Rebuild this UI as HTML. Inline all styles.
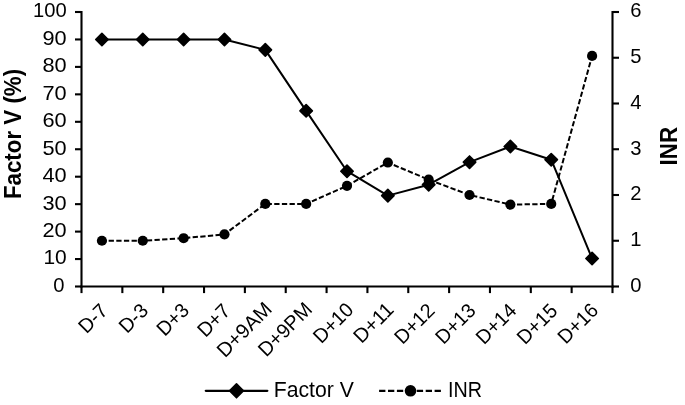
<!DOCTYPE html>
<html lang="en"><head><meta charset="utf-8"><title>Factor V and INR</title>
<style>html,body{margin:0;padding:0;background:#fff}body{width:685px;height:405px;overflow:hidden}</style></head>
<body>
<svg width="685" height="405" viewBox="0 0 685 405" style="display:block">
<rect width="685" height="405" fill="#fff"/>
<g stroke="#000" stroke-width="2.1" fill="none" shape-rendering="auto">
<path d="M81.5 10.95V287.55"/>
<path d="M612.5 10.95V287.55"/>
<path d="M80.45 286.5H613.55"/>
<path d="M75.0 286.50H81.5"/>
<path d="M75.0 259.05H81.5"/>
<path d="M75.0 231.60H81.5"/>
<path d="M75.0 204.15H81.5"/>
<path d="M75.0 176.70H81.5"/>
<path d="M75.0 149.25H81.5"/>
<path d="M75.0 121.80H81.5"/>
<path d="M75.0 94.35H81.5"/>
<path d="M75.0 66.90H81.5"/>
<path d="M75.0 39.45H81.5"/>
<path d="M75.0 12.00H81.5"/>
<path d="M612.5 286.50H619.0"/>
<path d="M612.5 240.75H619.0"/>
<path d="M612.5 195.00H619.0"/>
<path d="M612.5 149.25H619.0"/>
<path d="M612.5 103.50H619.0"/>
<path d="M612.5 57.75H619.0"/>
<path d="M612.5 12.00H619.0"/>
<path d="M81.50 286.5V293.1"/>
<path d="M122.35 286.5V293.1"/>
<path d="M163.19 286.5V293.1"/>
<path d="M204.04 286.5V293.1"/>
<path d="M244.88 286.5V293.1"/>
<path d="M285.73 286.5V293.1"/>
<path d="M326.58 286.5V293.1"/>
<path d="M367.42 286.5V293.1"/>
<path d="M408.27 286.5V293.1"/>
<path d="M449.12 286.5V293.1"/>
<path d="M489.96 286.5V293.1"/>
<path d="M530.81 286.5V293.1"/>
<path d="M571.65 286.5V293.1"/>
<path d="M612.50 286.5V293.1"/>
</g>
<g font-family="&quot;Liberation Sans&quot;, sans-serif" font-size="20.2" fill="#000">
<text x="64.4" y="291.90" text-anchor="end">0</text>
<text x="66.7" y="264.45" text-anchor="end" textLength="23.3" lengthAdjust="spacingAndGlyphs">10</text>
<text x="66.7" y="237.00" text-anchor="end" textLength="24.2" lengthAdjust="spacingAndGlyphs">20</text>
<text x="66.7" y="209.55" text-anchor="end" textLength="24.2" lengthAdjust="spacingAndGlyphs">30</text>
<text x="66.7" y="182.10" text-anchor="end" textLength="24.2" lengthAdjust="spacingAndGlyphs">40</text>
<text x="66.7" y="154.65" text-anchor="end" textLength="24.2" lengthAdjust="spacingAndGlyphs">50</text>
<text x="66.7" y="127.20" text-anchor="end" textLength="24.2" lengthAdjust="spacingAndGlyphs">60</text>
<text x="66.7" y="99.75" text-anchor="end" textLength="24.2" lengthAdjust="spacingAndGlyphs">70</text>
<text x="66.7" y="72.30" text-anchor="end" textLength="24.2" lengthAdjust="spacingAndGlyphs">80</text>
<text x="66.7" y="44.85" text-anchor="end" textLength="24.2" lengthAdjust="spacingAndGlyphs">90</text>
<text x="66.7" y="17.40" text-anchor="end">100</text>
<text x="630.3" y="291.90">0</text>
<text x="630.3" y="246.15">1</text>
<text x="630.3" y="200.40">2</text>
<text x="630.3" y="154.65">3</text>
<text x="630.3" y="108.90">4</text>
<text x="630.3" y="63.15">5</text>
<text x="630.3" y="17.40">6</text>
<text transform="translate(108.92 312.00) rotate(-45)" text-anchor="end" textLength="31.7" lengthAdjust="spacingAndGlyphs">D-7</text>
<text transform="translate(149.42 311.85) rotate(-45)" text-anchor="end" textLength="31.7" lengthAdjust="spacingAndGlyphs">D-3</text>
<text transform="translate(190.22 311.60) rotate(-45)" text-anchor="end" textLength="35.9" lengthAdjust="spacingAndGlyphs">D+3</text>
<text transform="translate(231.56 312.20) rotate(-45)" text-anchor="end" textLength="36.9" lengthAdjust="spacingAndGlyphs">D+7</text>
<text transform="translate(273.11 310.40) rotate(-45)" text-anchor="end" textLength="68.0" lengthAdjust="spacingAndGlyphs">D+9AM</text>
<text transform="translate(313.30 310.65) rotate(-45)" text-anchor="end" textLength="66.5" lengthAdjust="spacingAndGlyphs">D+9PM</text>
<text transform="translate(354.85 310.90) rotate(-45)" text-anchor="end" textLength="47.6" lengthAdjust="spacingAndGlyphs">D+10</text>
<text transform="translate(394.95 310.90) rotate(-45)" text-anchor="end">D+11</text>
<text transform="translate(435.99 311.70) rotate(-45)" text-anchor="end" textLength="47.5" lengthAdjust="spacingAndGlyphs">D+12</text>
<text transform="translate(476.94 311.70) rotate(-45)" text-anchor="end" textLength="47.3" lengthAdjust="spacingAndGlyphs">D+13</text>
<text transform="translate(517.68 311.80) rotate(-45)" text-anchor="end" textLength="47.5" lengthAdjust="spacingAndGlyphs">D+14</text>
<text transform="translate(558.63 312.00) rotate(-45)" text-anchor="end" textLength="47.5" lengthAdjust="spacingAndGlyphs">D+15</text>
<text transform="translate(599.38 311.50) rotate(-45)" text-anchor="end" textLength="47.5" lengthAdjust="spacingAndGlyphs">D+16</text>
</g>
<g font-family="&quot;Liberation Sans&quot;, sans-serif" font-weight="bold" font-size="24.4" fill="#000">
<text transform="translate(21.1 134.0) rotate(-90)" text-anchor="middle" textLength="130.2" lengthAdjust="spacingAndGlyphs">Factor V (%)</text>
<text transform="translate(677.3 146.2) rotate(-90)" text-anchor="middle" textLength="38.4" lengthAdjust="spacingAndGlyphs">INR</text>
</g>
<polyline points="101.92,39.45 142.77,39.45 183.62,39.45 224.46,39.45 265.31,49.88 306.15,110.82 347.00,171.21 387.85,195.64 428.69,184.66 469.54,162.15 510.38,146.50 551.23,159.68 592.08,258.50" fill="none" stroke="#000" stroke-width="2.0" stroke-linejoin="round"/>
<polyline points="101.92,240.75 142.77,240.75 183.62,238.23 224.46,234.34 265.31,203.92 306.15,203.92 347.00,185.85 387.85,162.52 428.69,179.67 469.54,195.00 510.38,204.61 551.23,203.92 592.08,55.92" fill="none" stroke="#000" stroke-width="2.0" stroke-dasharray="5.3 2.35" stroke-dashoffset="0.95" stroke-linejoin="round"/>
<path d="M95.72 39.45L101.92 33.25L108.12 39.45L101.92 45.65Z" fill="#000" stroke="#000" stroke-width="1.6" stroke-linejoin="round"/>
<path d="M136.57 39.45L142.77 33.25L148.97 39.45L142.77 45.65Z" fill="#000" stroke="#000" stroke-width="1.6" stroke-linejoin="round"/>
<path d="M177.42 39.45L183.62 33.25L189.82 39.45L183.62 45.65Z" fill="#000" stroke="#000" stroke-width="1.6" stroke-linejoin="round"/>
<path d="M218.26 39.45L224.46 33.25L230.66 39.45L224.46 45.65Z" fill="#000" stroke="#000" stroke-width="1.6" stroke-linejoin="round"/>
<path d="M259.11 49.88L265.31 43.68L271.51 49.88L265.31 56.08Z" fill="#000" stroke="#000" stroke-width="1.6" stroke-linejoin="round"/>
<path d="M299.95 110.82L306.15 104.62L312.35 110.82L306.15 117.02Z" fill="#000" stroke="#000" stroke-width="1.6" stroke-linejoin="round"/>
<path d="M340.80 171.21L347.00 165.01L353.20 171.21L347.00 177.41Z" fill="#000" stroke="#000" stroke-width="1.6" stroke-linejoin="round"/>
<path d="M381.65 195.64L387.85 189.44L394.05 195.64L387.85 201.84Z" fill="#000" stroke="#000" stroke-width="1.6" stroke-linejoin="round"/>
<path d="M422.49 184.66L428.69 178.46L434.89 184.66L428.69 190.86Z" fill="#000" stroke="#000" stroke-width="1.6" stroke-linejoin="round"/>
<path d="M463.34 162.15L469.54 155.95L475.74 162.15L469.54 168.35Z" fill="#000" stroke="#000" stroke-width="1.6" stroke-linejoin="round"/>
<path d="M504.18 146.50L510.38 140.31L516.58 146.50L510.38 152.70Z" fill="#000" stroke="#000" stroke-width="1.6" stroke-linejoin="round"/>
<path d="M545.03 159.68L551.23 153.48L557.43 159.68L551.23 165.88Z" fill="#000" stroke="#000" stroke-width="1.6" stroke-linejoin="round"/>
<path d="M585.88 258.50L592.08 252.30L598.28 258.50L592.08 264.70Z" fill="#000" stroke="#000" stroke-width="1.6" stroke-linejoin="round"/>
<circle cx="101.92" cy="240.75" r="5.1" fill="#000"/>
<circle cx="142.77" cy="240.75" r="5.1" fill="#000"/>
<circle cx="183.62" cy="238.23" r="5.1" fill="#000"/>
<circle cx="224.46" cy="234.34" r="5.1" fill="#000"/>
<circle cx="265.31" cy="203.92" r="5.1" fill="#000"/>
<circle cx="306.15" cy="203.92" r="5.1" fill="#000"/>
<circle cx="347.00" cy="185.85" r="5.1" fill="#000"/>
<circle cx="387.85" cy="162.52" r="5.1" fill="#000"/>
<circle cx="428.69" cy="179.67" r="5.1" fill="#000"/>
<circle cx="469.54" cy="195.00" r="5.1" fill="#000"/>
<circle cx="510.38" cy="204.61" r="5.1" fill="#000"/>
<circle cx="551.23" cy="203.92" r="5.1" fill="#000"/>
<circle cx="592.08" cy="55.92" r="5.1" fill="#000"/>
<path d="M205.8 390.8H267.3" stroke="#000" stroke-width="2.3" stroke-linecap="round"/>
<path d="M229.5 390.8L236.5 383.8L243.5 390.8L236.5 397.8Z" fill="#000" stroke="#000" stroke-width="1.6" stroke-linejoin="round"/>
<path d="M379.1 390.8H410.5M416.8 390.8H441" stroke="#000" stroke-width="2.3" stroke-dasharray="6.3 2.6"/>
<circle cx="410.5" cy="390.8" r="5.8" fill="#000"/>
<g font-family="&quot;Liberation Sans&quot;, sans-serif" font-size="21.3" fill="#000">
<text x="273.8" y="397.2" textLength="80" lengthAdjust="spacingAndGlyphs">Factor V</text>
<text x="448.0" y="397.2" textLength="34" lengthAdjust="spacingAndGlyphs">INR</text>
</g>
</svg>
</body></html>
